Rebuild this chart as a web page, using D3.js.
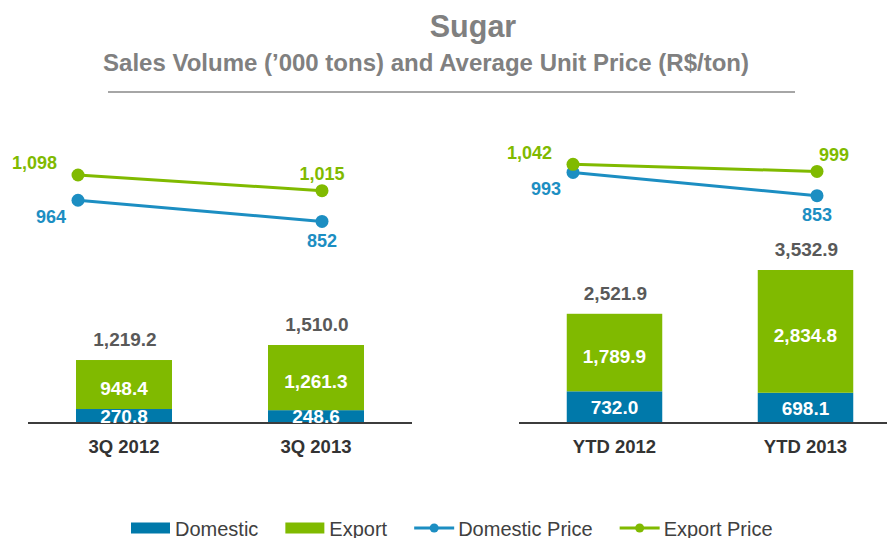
<!DOCTYPE html>
<html>
<head>
<meta charset="utf-8">
<script src="https://cdn.jsdelivr.net/npm/d3@7"></script>
<style>
  html, body { margin: 0; padding: 0; background: #ffffff; }
  svg { display: block; font-family: "Liberation Sans", Arial, sans-serif; }
</style>
</head>
<body>
<svg id="chart" width="887" height="538"></svg>
<script>
// ---------- data ----------
const categories3Q = ["3Q 2012", "3Q 2013"];
const domestic3Q = [270.8, 248.6];
const export3Q = [948.4, 1261.3];
const total3Q = [1219.2, 1510.0];
const domesticPrice3Q = [964, 852];
const exportPrice3Q = [1098, 1015];

const categoriesYTD = ["YTD 2012", "YTD 2013"];
const domesticYTD = [732.0, 698.1];
const exportYTD = [1789.9, 2834.8];
const totalYTD = [2521.9, 3532.9];
const domesticPriceYTD = [993, 853];
const exportPriceYTD = [1042, 999];

const legendLabels = ["Domestic", "Export", "Domestic Price", "Export Price"];

// ---------- style ----------
const C_DOM_BAR = "#0079AA";
const C_EXP = "#80BA00";
const C_DOM_LINE = "#1C8EC2";
const C_TOTAL = "#595959";
const C_CAT = "#333333";
const C_TITLE = "#808080";

const svg = d3.select("#chart");

// ---------- title ----------
svg.append("text").attr("x", 473).attr("y", 37).attr("text-anchor", "middle")
  .attr("font-size", 30.5).attr("font-weight", "bold").attr("fill", C_TITLE).text("Sugar");
svg.append("text").attr("x", 426).attr("y", 71).attr("text-anchor", "middle")
  .attr("font-size", 24).attr("font-weight", "bold").attr("fill", C_TITLE)
  .text("Sales Volume (\u2019000 tons) and Average Unit Price (R$/ton)");
svg.append("line").attr("x1", 108).attr("x2", 795).attr("y1", 92).attr("y2", 92)
  .attr("stroke", "#a6a6a6").attr("stroke-width", 2);

// ---------- panels ----------
const panels = [
  {
    cats: categories3Q, dom: domestic3Q, exp: export3Q, tot: total3Q,
    dp: domesticPrice3Q, ep: exportPrice3Q,
    bandRange: [28, 412], barTop: 345,
    lineRange: [78, 322], priceRange: [221.4, 175],
    secondExpDx: 0
  },
  {
    cats: categoriesYTD, dom: domesticYTD, exp: exportYTD, tot: totalYTD,
    dp: domesticPriceYTD, ep: exportPriceYTD,
    bandRange: [519, 901], barTop: 270,
    lineRange: [573, 817], priceRange: [195.7, 164.3],
    secondExpDx: 17
  }
];

const baseY = 423;
const fmtVol = d3.format(",.1f");
const fmtPrice = d3.format(",");
const VAL_FS = 19;

panels.forEach(p => {
  const g = svg.append("g");
  const x = d3.scaleBand().domain(p.cats).range(p.bandRange)
    .paddingInner(0.5).paddingOuter(0.25);
  const y = d3.scaleLinear().domain([0, d3.max(p.tot)]).range([baseY, p.barTop]);

  const rows = p.cats.map((c, i) => ({ c, dom: p.dom[i], exp: p.exp[i], tot: p.tot[i] }));

  // domestic bars
  g.selectAll(".dom").data(rows).join("rect")
    .attr("x", d => x(d.c)).attr("width", x.bandwidth())
    .attr("y", d => y(d.dom)).attr("height", d => y(0) - y(d.dom))
    .attr("fill", C_DOM_BAR);
  // export bars
  g.selectAll(".exp").data(rows).join("rect")
    .attr("x", d => x(d.c)).attr("width", x.bandwidth())
    .attr("y", d => y(d.dom + d.exp)).attr("height", d => y(d.dom) - y(d.dom + d.exp))
    .attr("fill", C_EXP);

  // axis baseline
  g.append("line").attr("x1", p.bandRange[0]).attr("x2", p.bandRange[1])
    .attr("y1", baseY).attr("y2", baseY)
    .attr("stroke", "#3c3c3c").attr("stroke-width", 2);

  // category labels
  g.selectAll(".cat").data(rows).join("text")
    .attr("x", d => x(d.c) + x.bandwidth() / 2).attr("y", 453)
    .attr("text-anchor", "middle").attr("font-size", 18.5).attr("font-weight", "bold")
    .attr("fill", C_CAT).text(d => d.c);

  // segment labels
  g.selectAll(".domlab").data(rows).join("text")
    .attr("x", d => x(d.c) + x.bandwidth() / 2)
    .attr("y", d => (y(0) + y(d.dom)) / 2).attr("dy", "0.36em")
    .attr("text-anchor", "middle").attr("font-size", VAL_FS).attr("font-weight", "bold")
    .attr("fill", "#ffffff").text(d => fmtVol(d.dom));
  g.selectAll(".explab").data(rows).join("text")
    .attr("x", d => x(d.c) + x.bandwidth() / 2)
    .attr("y", d => (y(d.dom) + y(d.dom + d.exp)) / 2 + 4).attr("dy", "0.36em")
    .attr("text-anchor", "middle").attr("font-size", VAL_FS).attr("font-weight", "bold")
    .attr("fill", "#ffffff").text(d => fmtVol(d.exp));
  // totals
  g.selectAll(".totlab").data(rows).join("text")
    .attr("x", d => x(d.c) + x.bandwidth() / 2 + 1)
    .attr("y", d => y(d.tot) - 14)
    .attr("text-anchor", "middle").attr("font-size", VAL_FS).attr("font-weight", "bold")
    .attr("fill", C_TOTAL).text(d => fmtVol(d.tot));

  // price lines
  const lx = d3.scalePoint().domain(p.cats).range(p.lineRange);
  const ly = d3.scaleLinear().domain([d3.min(p.dp.concat(p.ep)), d3.max(p.dp.concat(p.ep))])
    .range(p.priceRange);
  const series = [
    { vals: p.dp, color: C_DOM_LINE, kind: "dom" },
    { vals: p.ep, color: C_EXP, kind: "exp" }
  ];
  series.forEach(s => {
    const pts = p.cats.map((c, i) => ({ c, v: s.vals[i], i }));
    g.append("path").datum(pts)
      .attr("d", d3.line().x(d => lx(d.c)).y(d => ly(d.v)))
      .attr("fill", "none").attr("stroke", s.color).attr("stroke-width", 3);
    g.selectAll(".pt-" + s.kind).data(pts).join("circle")
      .attr("cx", d => lx(d.c)).attr("cy", d => ly(d.v)).attr("r", 6.5)
      .attr("fill", s.color);
    g.selectAll(".pl-" + s.kind).data(pts).join("text")
      .attr("x", d => {
        if (d.i === 0) return lx(d.c) - (s.kind === "exp" ? 21 : 12);
        return lx(d.c) + (s.kind === "exp" ? p.secondExpDx : 0);
      })
      .attr("y", d => {
        if (s.kind === "exp") return ly(d.v) + (d.i === 0 ? -12 : -17);
        return ly(d.v) + (d.i === 0 ? 16 : 19);
      })
      .attr("dy", "0.36em")
      .attr("text-anchor", d => d.i === 0 ? "end" : "middle")
      .attr("font-size", 18).attr("font-weight", "bold")
      .attr("fill", s.color).text(d => fmtPrice(d.v));
  });
});

// ---------- legend ----------
const legend = svg.append("g");
let lxPos = 131;
const legY = 528;
legendLabels.forEach((lab, i) => {
  const it = legend.append("g");
  if (i < 2) {
    it.append("rect").attr("x", lxPos).attr("y", legY - 5.5).attr("width", 39).attr("height", 11)
      .attr("fill", i === 0 ? C_DOM_BAR : C_EXP);
  } else {
    const col = i === 2 ? C_DOM_LINE : C_EXP;
    it.append("line").attr("x1", lxPos).attr("x2", lxPos + 40).attr("y1", legY).attr("y2", legY)
      .attr("stroke", col).attr("stroke-width", 3);
    it.append("circle").attr("cx", lxPos + 20).attr("cy", legY).attr("r", 4.5).attr("fill", col);
  }
  const t = it.append("text").attr("x", lxPos + 44).attr("y", 535.5)
    .attr("font-size", 20).attr("fill", "#404040").text(lab);
  lxPos += 44 + t.node().getComputedTextLength() + 27;
});
</script>
</body>
</html>
